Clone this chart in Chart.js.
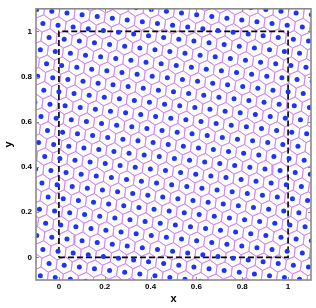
<!DOCTYPE html>
<html><head><meta charset="utf-8">
<script src="https://cdn.jsdelivr.net/npm/chart.js@4.4.1/dist/chart.umd.min.js"></script>
<style>html,body{margin:0;padding:0;background:#fff}</style>
</head><body>
<canvas id="c" width="316" height="308"></canvas>
<script>
// Generator points (row by row)
const ptX = [
-0.081,-0.016,0.050,0.116,0.182,0.248,0.314,
-0.109,-0.043,0.023,0.089,0.155,0.221,0.287,0.353,0.419,0.484,0.550,0.616,0.682,0.748,0.814,
-0.070,-0.004,0.062,0.128,0.194,0.260,0.326,0.391,0.457,0.523,0.589,0.655,0.721,0.787,0.853,0.919,0.984,1.050,1.116,
-0.097,-0.031,0.035,0.101,0.167,0.233,0.298,0.364,0.430,0.496,0.562,0.628,0.694,0.760,0.826,0.891,0.957,1.023,1.089,
-0.124,-0.058,0.008,0.074,0.140,0.205,0.271,0.337,0.403,0.469,0.535,0.601,0.667,0.733,0.798,0.864,0.930,0.996,1.062,1.128,
-0.085,-0.019,0.047,0.112,0.178,0.244,0.310,0.376,0.442,0.508,0.574,0.640,0.705,0.771,0.837,0.903,0.969,1.035,1.101,
-0.112,-0.047,0.019,0.085,0.151,0.217,0.283,0.349,0.415,0.481,0.547,0.612,0.678,0.744,0.810,0.876,0.942,1.008,1.074,
-0.074,-0.008,0.058,0.124,0.190,0.256,0.322,0.388,0.453,0.519,0.585,0.651,0.717,0.783,0.849,0.915,0.981,1.047,1.112,
-0.101,-0.035,0.031,0.097,0.163,0.229,0.295,0.360,0.426,0.492,0.558,0.624,0.690,0.756,0.822,0.888,0.953,1.019,1.085,
-0.128,-0.062,0.004,0.070,0.136,0.202,0.267,0.333,0.399,0.465,0.531,0.597,0.663,0.729,0.795,0.860,0.926,0.992,1.058,1.124,
-0.089,-0.023,0.043,0.109,0.174,0.240,0.306,0.372,0.438,0.504,0.570,0.636,0.702,0.767,0.833,0.899,0.965,1.031,1.097,
-0.116,-0.050,0.016,0.081,0.147,0.213,0.279,0.345,0.411,0.477,0.543,0.609,0.674,0.740,0.806,0.872,0.938,1.004,1.070,
-0.078,-0.012,0.054,0.120,0.186,0.252,0.318,0.384,0.450,0.516,0.581,0.647,0.713,0.779,0.845,0.911,0.977,1.043,1.109,
-0.105,-0.039,0.027,0.093,0.159,0.225,0.291,0.357,0.422,0.488,0.554,0.620,0.686,0.752,0.818,0.884,0.950,1.016,1.081,
-0.066,0.000,0.066,0.132,0.198,0.264,0.329,0.395,0.461,0.527,0.593,0.659,0.725,0.791,0.857,0.922,0.988,1.054,1.120,
-0.093,-0.027,0.039,0.105,0.171,0.236,0.302,0.368,0.434,0.500,0.566,0.632,0.698,0.764,0.829,0.895,0.961,1.027,1.093,
-0.120,-0.054,0.012,0.078,0.143,0.209,0.275,0.341,0.407,0.473,0.539,0.605,0.671,0.736,0.802,0.868,0.934,1.000,1.066,
-0.081,-0.016,0.050,0.116,0.182,0.248,0.314,0.380,0.446,0.512,0.578,0.643,0.709,0.775,0.841,0.907,0.973,1.039,1.105,
-0.109,-0.043,0.023,0.089,0.155,0.221,0.287,0.353,0.419,0.484,0.550,0.616,0.682,0.748,0.814,0.880,0.946,1.012,1.078,
-0.070,-0.004,0.062,0.128,0.194,0.260,0.326,0.391,0.457,0.523,0.589,0.655,0.721,0.787,0.853,0.919,0.984,1.050,1.116,
-0.097,-0.031,0.035,0.101,0.167,0.233,0.298,0.364,0.430,0.496,0.562,0.628,0.694,0.760,0.826,0.891,0.957,1.023,1.089,
0.140,0.205,0.271,0.337,0.403,0.469,0.535,0.601,0.667,0.733,0.798,0.864,0.930,0.996,1.062,1.128,
0.640,0.705,0.771,0.837,0.903,0.969,1.035,1.101
];
const ptY = [
-0.081,-0.089,-0.097,-0.105,-0.112,-0.120,-0.128,
-0.019,-0.027,-0.035,-0.043,-0.050,-0.058,-0.066,-0.074,-0.081,-0.089,-0.097,-0.105,-0.112,-0.120,-0.128,
0.035,0.027,0.019,0.012,0.004,-0.004,-0.012,-0.019,-0.027,-0.035,-0.043,-0.050,-0.058,-0.066,-0.074,-0.081,-0.089,-0.097,-0.105,
0.097,0.089,0.081,0.074,0.066,0.058,0.050,0.043,0.035,0.027,0.019,0.012,0.004,-0.004,-0.012,-0.019,-0.027,-0.035,-0.043,
0.159,0.151,0.143,0.136,0.128,0.120,0.112,0.105,0.097,0.089,0.081,0.074,0.066,0.058,0.050,0.043,0.035,0.027,0.019,0.012,
0.213,0.205,0.198,0.190,0.182,0.174,0.167,0.159,0.151,0.143,0.136,0.128,0.120,0.112,0.105,0.097,0.089,0.081,0.074,
0.275,0.267,0.260,0.252,0.244,0.236,0.229,0.221,0.213,0.205,0.198,0.190,0.182,0.174,0.167,0.159,0.151,0.143,0.136,
0.329,0.322,0.314,0.306,0.298,0.291,0.283,0.275,0.267,0.260,0.252,0.244,0.236,0.229,0.221,0.213,0.205,0.198,0.190,
0.391,0.384,0.376,0.368,0.360,0.353,0.345,0.337,0.329,0.322,0.314,0.306,0.298,0.291,0.283,0.275,0.267,0.260,0.252,
0.453,0.446,0.438,0.430,0.422,0.415,0.407,0.399,0.391,0.384,0.376,0.368,0.360,0.353,0.345,0.337,0.329,0.322,0.314,0.306,
0.508,0.500,0.492,0.484,0.477,0.469,0.461,0.453,0.446,0.438,0.430,0.422,0.415,0.407,0.399,0.391,0.384,0.376,0.368,
0.570,0.562,0.554,0.547,0.539,0.531,0.523,0.516,0.508,0.500,0.492,0.484,0.477,0.469,0.461,0.453,0.446,0.438,0.430,
0.624,0.616,0.609,0.601,0.593,0.585,0.578,0.570,0.562,0.554,0.547,0.539,0.531,0.523,0.516,0.508,0.500,0.492,0.484,
0.686,0.678,0.671,0.663,0.655,0.647,0.640,0.632,0.624,0.616,0.609,0.601,0.593,0.585,0.578,0.570,0.562,0.554,0.547,
0.740,0.733,0.725,0.717,0.709,0.702,0.694,0.686,0.678,0.671,0.663,0.655,0.647,0.640,0.632,0.624,0.616,0.609,0.601,
0.802,0.795,0.787,0.779,0.771,0.764,0.756,0.748,0.740,0.733,0.725,0.717,0.709,0.702,0.694,0.686,0.678,0.671,0.663,
0.864,0.857,0.849,0.841,0.833,0.826,0.818,0.810,0.802,0.795,0.787,0.779,0.771,0.764,0.756,0.748,0.740,0.733,0.725,
0.919,0.911,0.903,0.895,0.888,0.880,0.872,0.864,0.857,0.849,0.841,0.833,0.826,0.818,0.810,0.802,0.795,0.787,0.779,
0.981,0.973,0.965,0.957,0.950,0.942,0.934,0.926,0.919,0.911,0.903,0.895,0.888,0.880,0.872,0.864,0.857,0.849,0.841,
1.035,1.027,1.019,1.012,1.004,0.996,0.988,0.981,0.973,0.965,0.957,0.950,0.942,0.934,0.926,0.919,0.911,0.903,0.895,
1.097,1.089,1.081,1.074,1.066,1.058,1.050,1.043,1.035,1.027,1.019,1.012,1.004,0.996,0.988,0.981,0.973,0.965,0.957,
1.128,1.120,1.112,1.105,1.097,1.089,1.081,1.074,1.066,1.058,1.050,1.043,1.035,1.027,1.019,1.012,
1.128,1.120,1.112,1.105,1.097,1.089,1.081,1.074
];
// Dashed unit square
const boxX = [0, 1, 1, 0, 0];
const boxY = [0, 0, 1, 1, 0];
// Axes
const axisMin = -0.1, axisMax = 1.1;
const tickVals = [0, 0.2, 0.4, 0.6, 0.8, 1];
const tickLabels = ['0', '0.2', '0.4', '0.6', '0.8', '1'];

// Voronoi cells of the generator points (half-plane clipping)
function clipPoly(poly, px, py, dx, dy, c) {
  const out = [];
  for (let i = 0; i < poly.length; i++) {
    const a = poly[i], b = poly[(i + 1) % poly.length];
    const fa = (a[0] - px) * dx + (a[1] - py) * dy - c;
    const fb = (b[0] - px) * dx + (b[1] - py) * dy - c;
    if (fa <= 0) out.push(a);
    if ((fa < 0 && fb > 0) || (fa > 0 && fb < 0)) {
      const t = fa / (fa - fb);
      out.push([a[0] + t * (b[0] - a[0]), a[1] + t * (b[1] - a[1])]);
    }
  }
  return out;
}
const cellData = [];
for (let k = 0; k < ptX.length; k++) {
  const px = ptX[k], py = ptY[k], R = 0.06;
  let poly = [[px - R, py - R], [px + R, py - R], [px + R, py + R], [px - R, py + R]];
  for (let m = 0; m < ptX.length; m++) {
    if (m === k) continue;
    const dx = ptX[m] - px, dy = ptY[m] - py, d2 = dx * dx + dy * dy;
    if (d2 > 0.014) continue;
    poly = clipPoly(poly, px, py, dx, dy, d2 / 2);
  }
  poly.forEach(p => cellData.push({x: p[0], y: p[1]}));
  if (poly.length) cellData.push({x: poly[0][0], y: poly[0][1]});
  cellData.push({x: null, y: null});
}

const FONT = "'Liberation Sans', Arial, Helvetica, sans-serif";
const framePlugin = {
  id: 'frame',
  afterDatasetsDraw(chart) {
    const {ctx, chartArea: a, scales: {x, y}} = chart;
    ctx.save();
    ctx.strokeStyle = '#8a8a8a';
    ctx.lineWidth = 1;
    ctx.beginPath();
    x.ticks.forEach(t => {
      const p = Math.round(x.getPixelForValue(t.value)) + 0.5;
      ctx.moveTo(p, a.bottom); ctx.lineTo(p, a.bottom - 3);
      ctx.moveTo(p, a.top); ctx.lineTo(p, a.top + 3);
    });
    y.ticks.forEach(t => {
      const p = Math.round(y.getPixelForValue(t.value)) + 0.5;
      ctx.moveTo(a.left, p); ctx.lineTo(a.left + 3, p);
      ctx.moveTo(a.right, p); ctx.lineTo(a.right - 3, p);
    });
    ctx.stroke();
    ctx.lineWidth = 1.6;
    ctx.strokeRect(a.left, a.top, a.right - a.left, a.bottom - a.top);
    ctx.restore();
  }
};

function axisOpts(isX) {
  return {
    type: 'linear', min: axisMin, max: axisMax,
    afterBuildTicks: s => { s.ticks = tickVals.map(v => ({value: v})); },
    ticks: {
      callback: (v, i) => tickLabels[i],
      font: {family: FONT, weight: 'bold', size: 8},
      color: '#000', padding: isX ? 2 : 4, maxRotation: 0, autoSkip: false
    },
    grid: {display: false, drawTicks: false},
    border: {display: false},
    title: {
      display: true, text: isX ? 'x' : 'y', color: '#000',
      font: {family: FONT, weight: 'bold', size: 11},
      padding: isX ? {top: 0, bottom: 2.4} : {top: 2.6, bottom: 0}
    },
    afterFit: s => { if (isX) s.height = 28; else s.width = 36; }
  };
}

new Chart(document.getElementById('c'), {
  type: 'scatter',
  data: {
    datasets: [
      {
        label: 'points', order: 0, clip: 0,
        data: ptX.map((x, i) => ({x, y: ptY[i]})),
        pointRadius: 2.5, pointBorderWidth: 0,
        pointBackgroundColor: 'rgb(30,50,250)', pointBorderColor: 'rgb(30,50,250)'
      },
      {
        label: 'square', order: 1, clip: 0, showLine: true,
        data: boxX.map((x, i) => ({x, y: boxY[i]})),
        borderColor: '#000', borderWidth: 1.6, borderDash: [6, 3],
        pointRadius: 0, tension: 0
      },
      {
        label: 'cells', order: 2, clip: 0, showLine: true, spanGaps: false,
        data: cellData,
        borderColor: 'rgb(210,130,245)', borderWidth: 0.8,
        pointRadius: 0, tension: 0
      }
    ]
  },
  options: {
    responsive: false, animation: false, events: [],
    layout: {padding: {left: 0, right: 5, top: 5, bottom: 0}},
    plugins: {legend: {display: false}, tooltip: {enabled: false}},
    scales: {x: axisOpts(true), y: axisOpts(false)}
  },
  plugins: [framePlugin]
});
</script>
</body></html>
